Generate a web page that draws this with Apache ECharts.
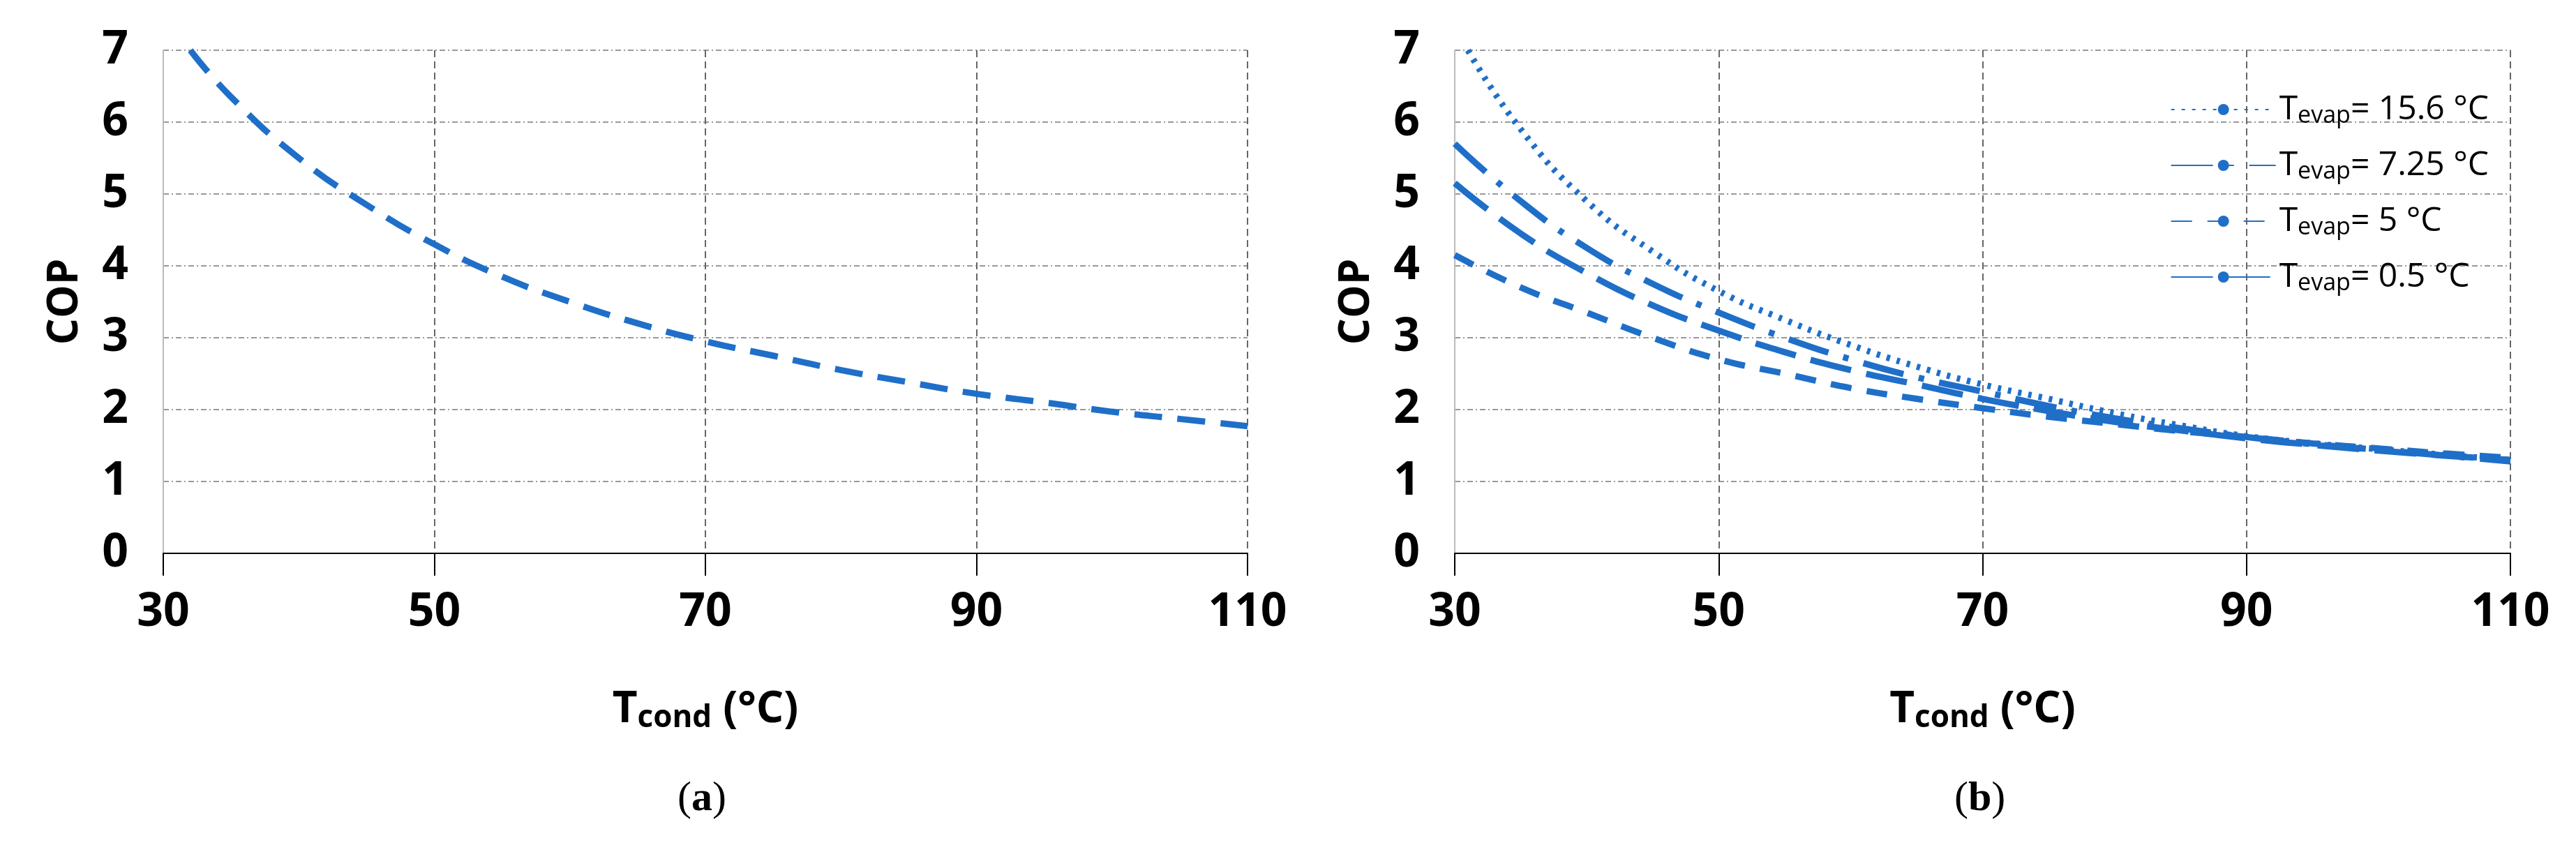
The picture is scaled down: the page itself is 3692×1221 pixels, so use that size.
<!DOCTYPE html>
<html><head><meta charset="utf-8">
<script src="https://cdn.jsdelivr.net/npm/echarts@6/dist/echarts.min.js"></script>
<style>html,body{margin:0;padding:0;background:#fff}#c{width:3692px;height:1221px}</style>
</head><body><div id="c"></div>
<script>
const tA = [32,35,40,45,50,55,60,65,70,75,80,85,90,95,100,105,110];
const copA = [7,6.35,5.5,4.85,4.3,3.85,3.5,3.2,2.95,2.75,2.55,2.38,2.22,2.1,1.97,1.87,1.77];
const tB = [30,35,40,45,50,55,60,65,70,75,80,85,90,95,100,105,110];
const tB156 = [31,35,40,45,50,55,60,65,70,75,80,85,90,95,100,105,110];
const cop156 = [7,5.9,4.9,4.2,3.65,3.25,2.9,2.6,2.35,2.15,1.95,1.78,1.63,1.53,1.45,1.37,1.3];
const cop725 = [5.7,4.9,4.25,3.75,3.35,3.0,2.7,2.45,2.25,2.05,1.88,1.74,1.62,1.52,1.44,1.36,1.28];
const cop5 = [4.15,3.7,3.35,3.0,2.7,2.5,2.3,2.15,2.02,1.9,1.8,1.7,1.62,1.53,1.46,1.39,1.33];
const cop05 = [5.15,4.45,3.9,3.45,3.1,2.8,2.55,2.35,2.15,1.98,1.83,1.71,1.6,1.51,1.43,1.36,1.3];
const names = ['15.6','7.25','5','0.5'];

const zip = (x,y)=>x.map((v,i)=>[v,y[i]]);
const FONT = "'Liberation Sans Narrow','Open Sans',sans-serif";
const blue = '#1f6fc9';
function xAx(g){return {type:'value',gridIndex:g,min:30,max:110,interval:20,
  axisLine:{show:true,lineStyle:{color:'#000',width:2}},axisTick:{show:true,length:32,lineStyle:{color:'#000',width:2}},
  axisLabel:{fontSize:66,fontWeight:'bold',fontFamily:FONT,color:'#000',margin:52},
  splitLine:{show:true,lineStyle:{color:'#666',type:[10,6],width:2}},
  name:'{t|T}{s|cond}{t| (°C)}',nameLocation:'middle',nameGap:190,
  nameTextStyle:{rich:{t:{fontSize:62,fontWeight:'bold',fontFamily:FONT,color:'#000'},s:{fontSize:44,fontWeight:'bold',fontFamily:FONT,color:'#000',verticalAlign:'bottom',padding:[24,0,0,0]}}}};}
function yAx(g){return {type:'value',gridIndex:g,min:0,max:7,interval:1,
  axisLine:{show:true,lineStyle:{color:'#bbb',width:2}},axisTick:{show:false},
  axisLabel:{fontSize:66,fontWeight:'bold',fontFamily:FONT,color:'#000',margin:50},
  splitLine:{show:true,lineStyle:{color:'#999',type:[8,4,2,4],width:2}},
  name:'COP',nameLocation:'middle',nameGap:110,nameTextStyle:{fontSize:60,fontWeight:'bold',fontFamily:FONT,color:'#000'}};}
function ser(name,x,y,dash,g){return {name:name,type:'line',xAxisIndex:g,yAxisIndex:g,data:zip(x,y),smooth:true,symbol:'none',showSymbol:false,
  lineStyle:{color:blue,width:9,type:dash},itemStyle:{color:blue}};}
const chart = echarts.init(document.getElementById('c'));
chart.setOption({
  animation:false,
  grid:[{left:234,right:1904,top:72,bottom:428},{left:2085,right:94,top:72,bottom:428}],
  xAxis:[xAx(0),xAx(1)], yAxis:[yAx(0),yAx(1)],
  legend:{right:120,top:128,orient:'vertical',itemWidth:150,itemHeight:20,itemGap:30,
    data:names.map(n=>({name:'T_'+n,icon:'none'})).map(o=>o.name),
    formatter:n=>'{t|T}{s|evap}{t|= '+n.slice(2)+' °C}',
    textStyle:{rich:{t:{fontSize:48,fontFamily:"'Open Sans',sans-serif",color:'#000'},s:{fontSize:34,fontFamily:"'Open Sans',sans-serif",color:'#000',padding:[18,0,0,0]}}}},
  series:[
    ser('A',tA,copA,[40,22],0),
    ser('T_15.6',tB156,cop156,[5,10],1),
    ser('T_7.25',tB,cop725,[60,22,8,22],1),
    ser('T_5',tB,cop5,[30,22],1),
    ser('T_0.5',tB,cop05,[60,22],1)
  ],
  graphic:[
    {type:'text',left:971,top:1115,style:{text:'({b|a})',font:"60px 'Liberation Serif',serif",fill:'#000',rich:{b:{font:"bold 60px 'Liberation Serif',serif"}}}},
    {type:'text',left:2801,top:1115,style:{text:'({b|b})',font:"60px 'Liberation Serif',serif",fill:'#000',rich:{b:{font:"bold 60px 'Liberation Serif',serif"}}}}
  ]
});
</script></body></html>
